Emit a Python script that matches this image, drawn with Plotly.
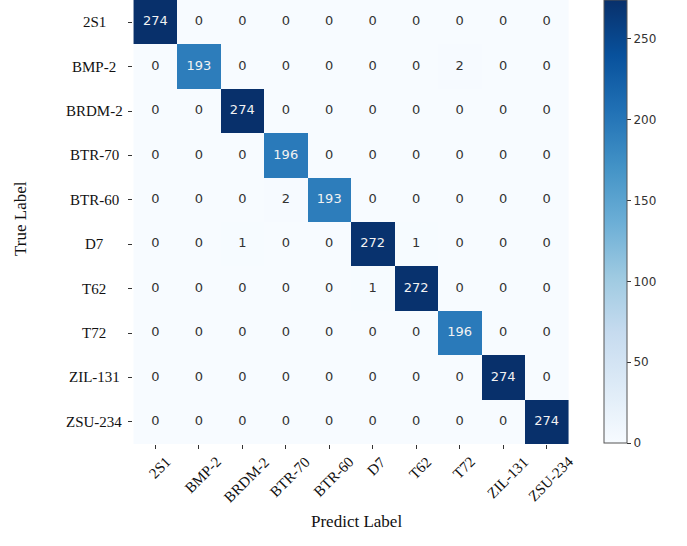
import plotly.graph_objects as go

# Class names (same order for true and predicted labels)
labels = ["2S1", "BMP-2", "BRDM-2", "BTR-70", "BTR-60",
          "D7", "T62", "T72", "ZIL-131", "ZSU-234"]

# Confusion matrix counts, one list per true label
row_2s1    = [274, 0, 0, 0, 0, 0, 0, 0, 0, 0]
row_bmp2   = [0, 193, 0, 0, 0, 0, 0, 2, 0, 0]
row_brdm2  = [0, 0, 274, 0, 0, 0, 0, 0, 0, 0]
row_btr70  = [0, 0, 0, 196, 0, 0, 0, 0, 0, 0]
row_btr60  = [0, 0, 0, 2, 193, 0, 0, 0, 0, 0]
row_d7     = [0, 0, 1, 0, 0, 272, 1, 0, 0, 0]
row_t62    = [0, 0, 0, 0, 0, 1, 272, 0, 0, 0]
row_t72    = [0, 0, 0, 0, 0, 0, 0, 196, 0, 0]
row_zil131 = [0, 0, 0, 0, 0, 0, 0, 0, 274, 0]
row_zsu234 = [0, 0, 0, 0, 0, 0, 0, 0, 0, 274]

matrix = [row_2s1, row_bmp2, row_brdm2, row_btr70, row_btr60,
          row_d7, row_t62, row_t72, row_zil131, row_zsu234]

cbar_ticks = [0, 50, 100, 150, 200, 250]

W, H = 687, 546
L, R, T, B = 133, 579, 0, 444          # plot area edges in pixels
PW, PH = R - L, B - T
zmax = max(max(r) for r in matrix)

fig = go.Figure()

fig.add_trace(go.Heatmap(
    z=matrix, x=labels, y=labels,
    colorscale="Blues", zmin=0, zmax=zmax,
    xgap=0, ygap=0, hoverinfo="skip",
    colorbar=dict(
        x=(604 - L) / PW, xanchor="left", xpad=0,
        y=1, yanchor="top", ypad=0,
        thicknessmode="pixels", thickness=23,
        lenmode="fraction", len=443 / PH,
        outlinewidth=1, outlinecolor="#555555",
        tickvals=cbar_ticks, ticks="outside", ticklen=4,
        tickcolor="#333333", tickwidth=1,
        tickfont=dict(family="DejaVu Sans", size=12, color="#333333"),
    ),
))

# Cell annotations: light text on dark cells, dark text on light cells
tx, ty, tt, tc = [], [], [], []
for i, row in enumerate(matrix):
    for j, v in enumerate(row):
        tx.append(labels[j])
        ty.append(labels[i])
        tt.append(str(v))
        tc.append("#f2f2f2" if v > zmax * 0.5 else "#333333")

fig.add_trace(go.Scatter(
    x=tx, y=ty, text=tt, mode="text",
    textfont=dict(family="DejaVu Sans", size=13, color=tc),
    hoverinfo="skip", showlegend=False,
))

annotations = []
serif = dict(family="Liberation Serif", size=15, color="#111111")

# Row labels, centred in the left margin
for lab in labels:
    annotations.append(dict(
        x=(94 - L) / PW, xref="paper", y=lab, yref="y",
        text=lab, showarrow=False, xanchor="center", yanchor="middle",
        font=serif,
    ))

# Column labels, rotated and centred under each tick
for lab in labels:
    annotations.append(dict(
        x=lab, xref="x", y=0, yref="paper", yshift=-7, xshift=4,
        text=lab, showarrow=False, textangle=-45,
        xanchor="center", yanchor="top", font=serif,
    ))

# Axis titles
annotations.append(dict(
    x=0.5, xref="paper", y=(B - 521) / PH, yref="paper",
    text="Predict Label", showarrow=False, xanchor="center", yanchor="middle",
    font=dict(family="Liberation Serif", size=17, color="#111111"),
))
annotations.append(dict(
    x=(21 - L) / PW, xref="paper", y=(B - 219) / PH, yref="paper",
    text="True Label", showarrow=False, textangle=-90,
    xanchor="center", yanchor="middle",
    font=dict(family="Liberation Serif", size=17, color="#111111"),
))

fig.update_layout(
    width=W, height=H,
    margin=dict(l=L, r=W - R, t=T, b=H - B),
    paper_bgcolor="white", plot_bgcolor="white",
    annotations=annotations,
    showlegend=False,
)
fig.update_xaxes(
    showticklabels=False, ticks="outside", ticklen=4, tickcolor="#333333",
    showgrid=False, zeroline=False, showline=False,
    categoryorder="array", categoryarray=labels,
)
fig.update_yaxes(
    showticklabels=False, ticks="outside", ticklen=4, tickcolor="#333333",
    showgrid=False, zeroline=False, showline=False, autorange="reversed",
    categoryorder="array", categoryarray=labels,
)

fig.write_html("out.html")
